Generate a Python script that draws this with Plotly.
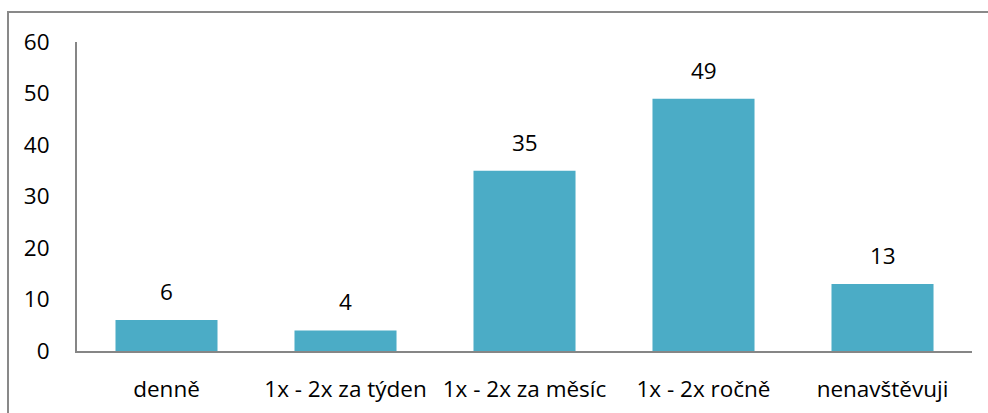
import plotly.graph_objects as go

categories = ["denně", "1x - 2x za týden", "1x - 2x za měsíc", "1x - 2x ročně", "nenavštěvuji"]
values = [6, 4, 35, 49, 13]
y_ticks = [0, 10, 20, 30, 40, 50, 60]

FONT = "Open Sans"
FS = 22.5
W, H = 988, 413
L, R, T, B = 77, 16, 42, 62
pw, ph = W - L - R, H - T - B

fig = go.Figure()
fig.add_trace(go.Bar(
    x=categories, y=values,
    marker=dict(color="#4BACC6", line=dict(width=0)),
    width=0.57,
))

for c, v in zip(categories, values):
    fig.add_annotation(x=c, y=v, text=str(v), showarrow=False,
                       yanchor="bottom", yshift=11,
                       font=dict(family=FONT, size=FS, color="#000000"))

# outer chart border (top + left visible)
fig.add_shape(type="rect", xref="paper", yref="paper",
              x0=(8 - L) / pw, x1=(W + 20 - L) / pw,
              y0=(H - B - (H + 20)) / ph, y1=(H - B - 12) / ph,
              line=dict(color="#898989", width=2), fillcolor="rgba(0,0,0,0)")

fig.update_layout(
    width=W, height=H,
    margin=dict(l=L, r=R, t=T, b=B, pad=0, autoexpand=False),
    paper_bgcolor="white", plot_bgcolor="white",
    showlegend=False,
    font=dict(family=FONT, size=FS, color="#000000"),
    xaxis=dict(showline=True, linecolor="#868686", linewidth=2, ticks="",
               showgrid=False, zeroline=False, ticklabelstandoff=17, automargin=False,
               tickfont=dict(family=FONT, size=FS, color="#000000")),
    yaxis=dict(range=[0, 60], tickvals=y_ticks, showline=True, linecolor="#868686",
               linewidth=2, ticks="", showgrid=False, zeroline=False,
               ticklabelstandoff=21, automargin=False,
               tickfont=dict(family=FONT, size=FS, color="#000000")),
)

fig.write_html("out.html")
